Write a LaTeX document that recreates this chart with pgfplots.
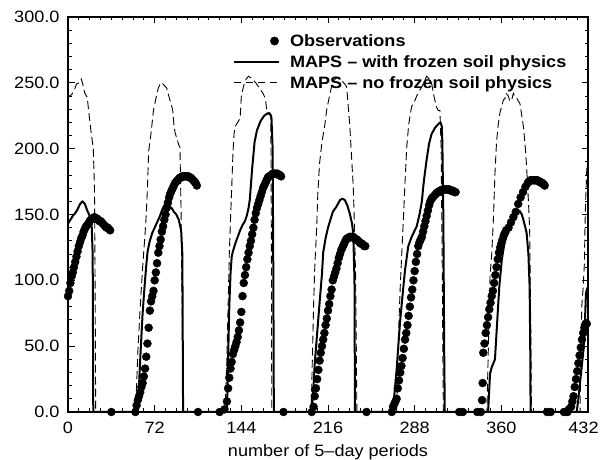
\documentclass[border=0pt]{standalone}
\usepackage{fontspec}
\setmainfont{Liberation Sans}[FakeStretch=1.1]
\usepackage{pgfplots}
\pgfplotsset{compat=1.18}
\begin{document}
\begin{tikzpicture}
\useasboundingbox (0,0) rectangle (600bp,460bp);
\begin{axis}[
  at={(68bp,48bp)}, anchor=south west,
  scale only axis, width=520bp, height=395bp,
  xmin=0, xmax=432, ymin=0, ymax=300,
  xtick={0,72,...,432}, ytick={0,50,...,300},
  xticklabels={0,72,144,216,288,360,432\hspace*{9bp}},
  minor x tick num=7, minor y tick num=4,
  tick align=inside, major tick length=6.5bp, minor tick length=3.5bp,
  axis line style={line width=1.2bp},
  tick style={black, line width=0.9bp},
  yticklabel style={/pgf/number format/fixed, /pgf/number format/fixed zerofill, /pgf/number format/precision=1, xshift=-5bp},
  xticklabel style={yshift=-7bp},
  /pgf/number format/assume math mode=true,
  tick label style={font=\fontsize{16.5}{19}\selectfont},
  label style={font=\fontsize{16.5}{19}\selectfont},
  xlabel={number of 5–day periods},
  xlabel style={yshift=-4bp},
  legend cell align=left,
  legend style={draw=none, fill=none, at={(0.316,0.963)}, anchor=north west,
    inner sep=0pt, row sep=2.5bp, column sep=8bp,
    font=\bfseries\fontsize{16.5}{19}\selectfont,
    nodes={inner sep=2.5bp}},
]
\addplot[only marks, mark=*, mark size=4bp, black,
  legend image code/.code={\path[draw=none,fill=none] (0bp,-1bp) rectangle (45bp,1bp); \fill[black] (41bp,0bp) circle (4.2bp);}]
coordinates {
(0,88) (1,92) (2,98) (3,103) (4,106) (5,110) (6,114) (7,118) (8,122) (9,126) (10,129) (11,132) (12,134) (13,137) (14,139) (15,141) (16,142) (17,143) (18,145) (19,146) (20,147) (21,147) (22,148) (23,147) (24,147) (25,146) (26,145) (27,145) (28,144) (29,143) (30,142) (31,141) (32,140) (33,140) (34,139) (35,138) (36,0)
(56,0) (57,5) (58,9) (59,12) (60,15) (61,19) (62,22) (63,27) (64,33) (65,42) (66,52) (67,64) (68,77) (69,84) (70,88) (71,92) (72,100) (73,106) (74,113) (75,121) (76,126) (77,131) (78,137) (79,141) (80,146) (81,150) (82,155) (83,159) (84,163) (85,166) (86,168) (87,170) (88,172) (89,174) (90,175) (91,176) (92,177) (93,178) (94,178) (95,179) (96,179) (97,179) (98,179) (99,179) (100,179) (101,178) (102,178) (103,177) (104,176) (105,175) (106,174) (107,172) (108,0)
(126,0) (130,2) (132,8) (133,18) (134,26) (135,33) (136,38) (137,44) (138,47) (139,50) (140,53) (141,57) (142,62) (143,68) (144,76) (145,88) (146,98) (147,104) (148,110) (149,116) (150,121) (151,126) (152,130) (153,135) (154,140) (155,146) (156,151) (157,155) (158,158) (159,161) (160,164) (161,167) (162,170) (163,172) (164,174) (165,176) (166,178) (167,179) (168,179) (169,180) (170,181) (171,181) (172,181) (173,181) (174,181) (175,180) (176,180) (177,179) (179,0)
(202.5,0) (204,4) (205,12) (206,18) (207,25) (208,32) (209,39) (210,45) (211,50) (212,55) (213,60) (214,66) (215,71) (216,77) (217,82) (218,88) (219,93) (220,100) (221,103) (222,106) (223,109) (224,113) (225,117) (226,120) (227,123) (228,125) (229,127) (230,129) (231,131) (232,132) (233,132) (234,133) (235,133) (236,133) (237,133) (238,132) (239,131) (240,131) (241,130) (242,129) (243,128) (244,128) (245,127) (246,126) (247,126) (248,0)
(269,0) (270,4) (271,6) (272,8) (273,10) (274,18) (275,24) (276,30) (277,35) (278,41) (279,48) (280,55) (281,60) (282,66) (283,73) (284,80) (285,87) (286,93) (287,100) (288,107) (289,114) (290,120) (291,126) (292,129) (293,131) (294,133) (295,137) (296,141) (297,145) (298,149) (299,153) (300,157) (301,160) (302,162) (303,163) (304,164) (305,165) (306,166) (307,167) (308,167) (309,168) (310,168) (311,169) (312,169) (313,169) (314,169) (315,169) (316,169) (317,169) (318,168) (319,168) (320,168) (321,167) (322,167) (325,0) (328,0) (340,0) (343,0)
(344,9) (344.5,22) (345,45) (346,52) (347,60) (348,66) (349,72) (350,78) (351,83) (352,88) (353,92) (354,98) (355,104) (356,110) (357,116) (358,121) (359,125) (360,128) (361,131) (362,134) (363,136) (364,138) (366,140) (368,144) (370,148) (372,152) (374,158) (376,163) (378,167) (380,171) (382,174) (383,175) (384,176) (385,176) (386,176) (387,176) (388,176) (389,176) (390,176) (391,175) (392,175) (393,174) (394,174) (395,173) (396,172) (398,0) (401,0) (412,0) (415,0)
(416,2) (418,4) (419,8) (420,12) (421,19) (422,25) (423,31) (424,37) (425,43) (426,49) (427,55) (428,60) (429,64) (430,67) (431,67)
};
\addlegendentry{Observations}
\addplot[black, line width=2bp, line join=round,
  legend image code/.code={\draw[black, line width=2bp] (0bp,0bp) -- (45bp,0bp);}]
coordinates {
(0,143) (2,146) (4,149) (6,151) (8,154) (10,158) (12,160) (14,158) (16,153) (18,149) (19.5,146) (20.5,120) (21,0) (58,0) (59,20) (60,40) (61,58) (62,75) (63,88) (64,100) (65,111) (66,121) (67,126) (68,130) (70,136) (72,140) (74,144) (76,148) (78,153) (80,157) (82,157) (84,156) (86,155) (88,152) (90,150) (92,146) (94,138) (95,120) (95.6,0) (132,0) (133,40) (134,80) (135,105) (136,118) (137,122) (139,128) (141,133) (143,138) (145,142) (147,145) (148.5,149) (150,155) (151,161) (153,185) (155,205) (157,214) (160,221) (163,225) (166,227) (168,226) (169,224) (170,200) (170.6,100) (171,0) (202.5,0) (204,20) (205,37) (207,60) (209,83) (211,105) (212,121) (214,132) (216,140) (218,146) (220,152) (223,156) (226,161) (228,162) (230,161) (232,157) (234,151) (236,143) (237,135) (238,100) (238.4,0) (270,0) (271,12) (272,22) (273,32) (274.4,50) (276,70) (278.6,95) (280,108) (282.7,126) (285.5,133) (289.7,141) (292,150) (294,160) (295,170) (296,178) (298,192) (300,204) (302,211) (305,216) (308,219) (309.5,220) (310.5,217) (311,205) (311.8,150) (312.5,50) (313,0) (349,0) (350.6,29) (352,34) (354.7,40) (356,60) (357.5,83) (358.3,95) (360.3,115) (363,131) (367,141) (370,148) (373,152) (375,153) (377,150) (378,147) (380,140) (381,136) (382.5,120) (383.5,95) (384,50) (384.3,0) (422.6,0) (424,10) (425,19) (426.5,32) (428,45) (429,58) (429.5,70) (430.3,90) (431,93) (432,95)
};
\addlegendentry{MAPS – with frozen soil physics}
\addplot[black, line width=0.9bp, dash pattern=on 8bp off 4bp,
  legend image code/.code={\draw[black, line width=0.9bp, dash pattern=on 7bp off 5bp] (0bp,0bp) -- (45bp,0bp);}]
coordinates {
(0,238) (1,240) (3,241) (5,244) (7,249) (9,250) (11,253) (12,250) (13,246) (14,242) (16,239) (17,230) (18,222) (19,214) (20,207) (21,200) (22,170) (22.5,100) (23,0) (56,0) (57,20) (58,45) (60,80) (62,110) (64,135) (65,150) (66,170) (67,198) (68,205) (69,212) (71,229) (73,238) (75,246) (77,250) (78,250) (80,248) (82,246) (84,239) (86,233) (87,229) (88,218) (89,212) (90,209) (92,203) (93,201) (94,150) (95,60) (95.5,0) (130.5,0) (132,40) (133,80) (134,120) (135,146) (136,170) (137,196) (138,212) (139,217) (141,220) (143,223) (144,240) (146,248) (148,253) (150,255) (153,253) (156,250) (159,246) (162,242) (164,238) (165,230) (167,228) (168.5,226) (169,120) (169.3,0) (202,0) (203,40) (204,80) (205,110) (206.6,140) (207.5,165) (209,189) (211,205) (213.5,219) (215,230) (217.7,242) (220,251) (222,253) (224,254) (226,253) (228,251) (230,249) (231.5,247) (233,230) (234,219) (235.5,195) (237,171) (238,140) (239,100) (240,0) (273,0) (274,40) (275,70) (276,95) (278.6,146) (280,175) (281.4,201) (283,218) (284,224) (285.5,232) (287,234) (289.7,240) (292,244) (294,247) (296,251) (298,255) (300,253) (302,250) (304,240) (306,232) (307.6,229) (309,229) (310,200) (311,100) (311.8,0) (348,0) (349,40) (350.6,103) (352,120) (353.4,146) (354.7,181) (356,205) (357.5,219) (359,228) (360.3,232) (361.7,237) (363,238) (364,242) (365.8,240) (367,236) (368.6,237) (370,242) (371,240) (373,238) (375.5,234) (377,225) (378.3,217) (380,200) (381,186) (382.5,160) (383.5,140) (384.5,60) (385,0) (425.4,0) (426,40) (426.8,80) (428,95) (429,113) (429.5,141) (430,160) (430.5,171) (431,185) (432,195)
};
\addlegendentry{MAPS – no frozen soil physics}
\end{axis}
\end{tikzpicture}
\end{document}
